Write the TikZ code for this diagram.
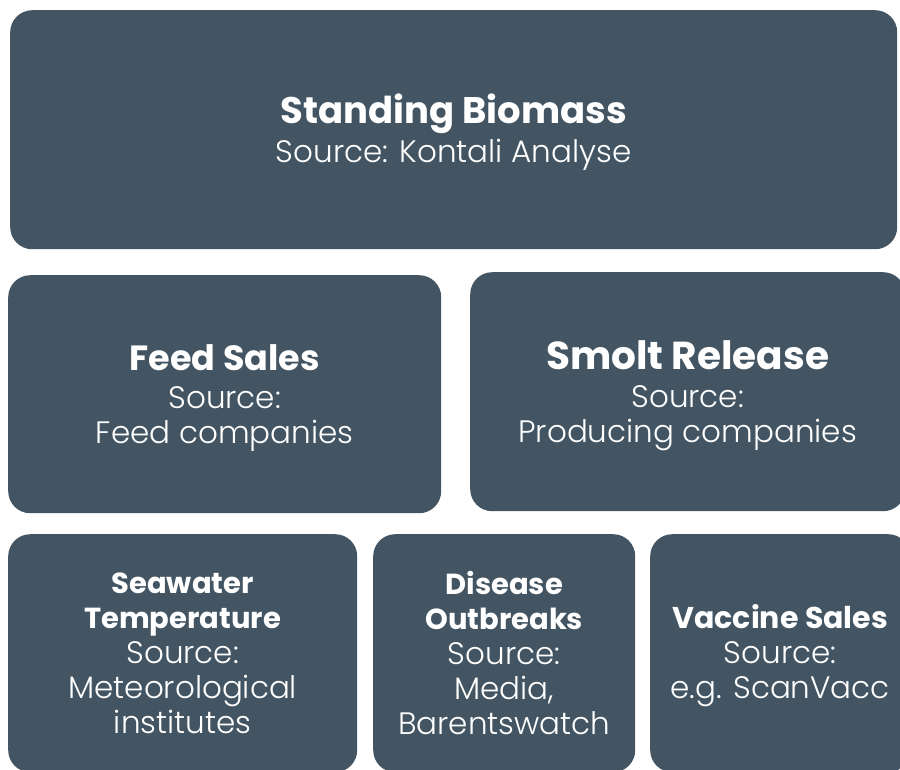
\documentclass[tikz,border=0pt]{standalone}
\usepackage{fontspec}
\IfFontExistsTF{Poppins Light}
    {\setmainfont{Poppins Light}[BoldFont=Poppins Bold]}
    {\setmainfont{Poppins}}
\definecolor{slate}{HTML}{435563}

\begin{document}
\begin{tikzpicture}[
        x=1pt, y=-1pt,
        card/.style={rectangle, fill=slate, rounded corners=22pt, inner sep=0pt, anchor=north west, align=center, text=white, font=\fontsize{31}{35}\selectfont}
    ]
        \useasboundingbox (0,0) rectangle (900,769);
        \clip (0,0) rectangle (900,769);
        % top row
        \node[card, minimum width=887pt, minimum height=239pt] (biomass) at (10,10)
            {\rule{0pt}{35pt}{\bfseries\fontsize{37}{40}\selectfont Standing Biomass}\\[4pt] Source: Kontali Analyse};
        % middle row
        \node[card, minimum width=433pt, minimum height=238pt] (feed) at (8,275)
            {\rule{0pt}{34pt}{\bfseries\fontsize{35}{38}\selectfont Feed Sales}\\[3pt] Source:\\ Feed companies};
        \node[card, minimum width=435pt, minimum height=239pt] (smolt) at (470,272)
            {\rule{0pt}{37pt}{\bfseries\fontsize{39}{38}\selectfont Smolt Release}\\[3pt] Source:\\ Producing companies};
        % bottom row
        \node[card, minimum width=349pt, minimum height=238pt] (seawater) at (8,534)
            {{\bfseries\fontsize{29}{35}\selectfont Seawater}\\ {\bfseries\fontsize{29}{35}\selectfont Temperature}\\ Source:\\ Meteorological\\ institutes};
        \node[card, minimum width=262pt, minimum height=238pt] (disease) at (373,534)
            {{\bfseries\fontsize{29}{35}\selectfont Disease}\\ {\bfseries\fontsize{29}{35}\selectfont Outbreaks}\\ Source:\\ Media,\\ Barentswatch};
        \node[card, minimum width=260pt, minimum height=238pt] (vaccine) at (650,534)
            {\rule{0pt}{28pt}{\bfseries\fontsize{30}{35}\selectfont Vaccine Sales}\\ Source:\\ e.g. ScanVacc};
    \end{tikzpicture}
\end{document}
